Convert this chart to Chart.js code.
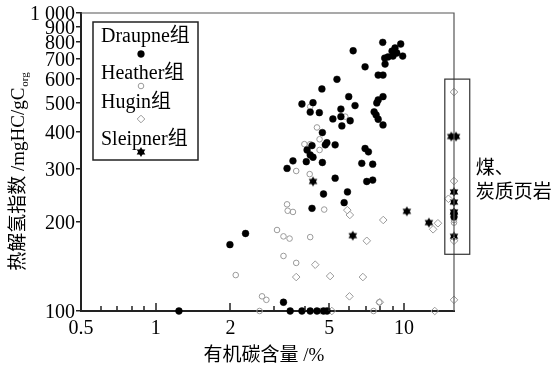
<!DOCTYPE html>
<html>
<head>
<meta charset="utf-8">
<script src="https://cdn.jsdelivr.net/npm/chart.js@4/dist/chart.umd.min.js"></script>
<style>
  html, body { margin: 0; padding: 0; background: #fff; }
  #wrap { width: 559px; height: 377px; position: relative; }
</style>
</head>
<body>
<div id="wrap"><canvas id="chart"></canvas></div>
<script>
// values: [TOC %, HI mgHC/gCorg]
const draupne = [
  [1.24,100],[1.99,167],[2.30,182],[3.27,107],[3.48,100],[3.88,100],[4.19,100],[4.46,100],[4.74,100],[4.90,100],
  [8.21,797],[9.70,787],[9.20,763],[8.95,745],[9.35,734],[9.88,717],[9.03,717],[8.62,712],[8.36,706],[8.39,674],
  [6.24,747],[6.97,660],[5.37,599],[7.87,619],[8.23,619],[4.67,556],[5.99,524],[8.23,524],[7.87,511],[7.77,499],
  [3.88,495],[4.30,500],[5.57,476],[6.35,489],[4.19,465],[4.56,463],[5.17,441],[5.57,449],[6.07,435],[5.62,418],
  [7.58,466],[7.72,455],[7.87,440],[8.23,421],[4.69,397],[4.89,367],[4.82,361],[5.28,361],[4.07,347],[4.26,359],
  [4.19,334],[4.30,328],[3.57,319],[4.04,317],[4.69,315],[3.38,301],[6.97,351],[7.19,342],[6.76,313],[7.48,311],
  [7.08,272],[7.48,275],[5.28,279],[4.74,247],[5.92,251],[5.74,231],[4.26,221],
  [15.9,213],[15.9,207]
];
const heather = [
  [4.19,485],[5.80,449],[4.46,413],[4.57,377],[3.97,363],[4.19,363],[4.57,347],[3.68,295],[4.17,288],
  [3.38,228],[3.40,217],[3.57,215],[4.77,219],[3.08,187],[3.27,178],[3.46,175],[4.19,177],[3.27,153],
  [3.68,145],[2.10,132],[2.68,112],[2.79,109],[2.62,100],[4.60,100],[7.95,107],[7.54,100],
  [15.9,202],[15.9,198]
];
const hugin = [
  [5.91,218],[6.05,210],[8.25,202],[7.08,172],[3.68,130],[5.04,131],[6.83,130],[6.03,112],[4.39,143],
  [5.12,100],[7.99,107],[13.3,100],[13.7,197],[13.1,188],
  [15.9,109],[15.9,543],[15.9,273],[15.1,238],[15.9,172]
];
const sleipner = [
  [4.30,272],[6.22,179],[10.27,216],[12.6,198],
  [15.5,385],[16.2,385],[15.9,251],[15.9,232],[15.9,215],[15.9,178]
];

const seriesNames = ['Draupne组', 'Heather组', 'Hugin组', 'Sleipner组'];
const xTickValues = [0.5, 1, 2, 5, 10];
const xMinorTicks = [0.6, 0.7, 0.8, 0.9, 3, 4, 6, 7, 8, 9];
const yTickValues = [100, 200, 300, 400, 500, 600, 700, 800, 900, 1000];
const xTitle = '有机碳含量 /%';
const yTitle = '热解氢指数 /mgHC/gC';
const coalLabel = ['煤、', '炭质页岩'];
const coalRange = { x: [14.6, 18.4], y: [155, 600] };

const serif = "'Liberation Serif', 'Noto Sans CJK SC', serif";
const grey = '#9a9a9a';

// six-pointed star marker
function makeStar(r) {
  const s = Math.ceil(r * 2) + 2;
  const c = document.createElement('canvas');
  c.width = s; c.height = s;
  const g = c.getContext('2d');
  g.fillStyle = '#000';
  for (let k = 0; k < 2; k++) {
    g.beginPath();
    for (let i = 0; i < 3; i++) {
      const a = (k ? Math.PI / 2 : -Math.PI / 2) + i * 2 * Math.PI / 3;
      const px = s / 2 + r * Math.cos(a), py = s / 2 + r * Math.sin(a);
      i ? g.lineTo(px, py) : g.moveTo(px, py);
    }
    g.closePath();
    g.fill();
  }
  return c;
}
const star = makeStar(5);

const toPts = arr => arr.map(p => ({ x: p[0], y: p[1] }));

const styles = [
  { pointStyle: 'circle', radius: 3.4, backgroundColor: '#000', borderColor: '#000', borderWidth: 0.5 },
  { pointStyle: 'circle', radius: 2.8, backgroundColor: 'rgba(255,255,255,0)', borderColor: grey, borderWidth: 1 },
  { pointStyle: 'rectRot', radius: 3.8, backgroundColor: 'rgba(255,255,255,0)', borderColor: grey, borderWidth: 1 },
  { pointStyle: star, radius: 5, backgroundColor: '#000', borderColor: '#000', borderWidth: 0 }
];

const decor = {
  id: 'decor',
  afterDraw(chart) {
    const { ctx, chartArea: a, scales: { x, y } } = chart;
    ctx.save();
    // top and right frame
    ctx.strokeStyle = '#555';
    ctx.lineWidth = 1.2;
    ctx.beginPath();
    ctx.moveTo(a.left, a.top); ctx.lineTo(a.right, a.top); ctx.lineTo(a.right, a.bottom);
    ctx.stroke();

    // x ticks pointing into the plot
    ctx.strokeStyle = '#222';
    ctx.lineWidth = 1.5;
    ctx.beginPath();
    xTickValues.slice(1).forEach(v => {
      const px = Math.round(x.getPixelForValue(v));
      ctx.moveTo(px, a.bottom); ctx.lineTo(px, a.bottom - 8);
    });
    xMinorTicks.forEach(v => {
      const px = Math.round(x.getPixelForValue(v));
      ctx.moveTo(px, a.bottom); ctx.lineTo(px, a.bottom - 5);
    });
    ctx.stroke();

    // coal / carbonaceous shale box
    const bx0 = x.getPixelForValue(coalRange.x[0]), bx1 = x.getPixelForValue(coalRange.x[1]);
    const by0 = y.getPixelForValue(coalRange.y[1]), by1 = y.getPixelForValue(coalRange.y[0]);
    ctx.strokeStyle = '#333';
    ctx.lineWidth = 1.2;
    ctx.strokeRect(bx0, by0, bx1 - bx0, by1 - by0);

    ctx.fillStyle = '#000';
    ctx.textBaseline = 'middle';
    ctx.textAlign = 'left';
    ctx.font = "19px 'Noto Sans CJK SC'";
    ctx.fillText(coalLabel[0], bx1 + 6, 167);
    ctx.fillText(coalLabel[1], bx1 + 6, 191);

    // legend box
    const lx = 93, ly = 22, lw = 105, lh = 138;
    ctx.strokeStyle = '#222';
    ctx.lineWidth = 1.5;
    ctx.strokeRect(lx, ly, lw, lh);
    ctx.font = '20px ' + serif;
    const textY = [37, 74, 103, 140];
    const markY = [54, 86, 119, 152];
    seriesNames.forEach((n, i) => {
      ctx.fillStyle = '#000';
      ctx.fillText(n, lx + 8, textY[i]);
      const st = styles[i];
      ctx.fillStyle = st.backgroundColor;
      ctx.strokeStyle = st.borderColor;
      ctx.lineWidth = st.borderWidth || 1;
      Chart.helpers.drawPoint(ctx, { pointStyle: st.pointStyle, radius: st.radius, rotation: 0, borderWidth: st.borderWidth }, 141, markY[i]);
    });

    // axis titles
    ctx.fillStyle = '#000';
    ctx.textAlign = 'center';
    ctx.font = '19px ' + serif;
    ctx.fillText(xTitle, 264, 356);

    ctx.translate(19, 172);
    ctx.rotate(-Math.PI / 2);
    ctx.textAlign = 'left';
    ctx.font = '19px ' + serif;
    const w1 = ctx.measureText(yTitle).width;
    ctx.font = '11px ' + serif;
    const w2 = ctx.measureText('org').width;
    const start = -(w1 + w2) / 2;
    ctx.font = '19px ' + serif;
    ctx.fillText(yTitle, start, 0);
    ctx.font = '11px ' + serif;
    ctx.fillText('org', start + w1 + 1, 6);
    ctx.restore();
  }
};

const datasets = [draupne, heather, hugin, sleipner].map((d, i) => ({
  label: seriesNames[i],
  data: toPts(d),
  pointStyle: styles[i].pointStyle,
  pointRadius: styles[i].radius,
  pointBackgroundColor: styles[i].backgroundColor,
  pointBorderColor: styles[i].borderColor,
  pointBorderWidth: styles[i].borderWidth,
  showLine: false,
  clip: false
}));

new Chart(document.getElementById('chart'), {
  type: 'scatter',
  data: { datasets: datasets },
  options: {
    responsive: true,
    maintainAspectRatio: false,
    animation: false,
    layout: { padding: { top: 13, right: 105, left: 0, bottom: 0 } },
    plugins: { legend: { display: false }, tooltip: { enabled: false } },
    scales: {
      x: {
        type: 'logarithmic',
        min: 0.5,
        max: 15.9,
        afterBuildTicks: s => { s.ticks = xTickValues.map(v => ({ value: v })); },
        afterFit: s => { s.height = 66; },
        grid: { drawOnChartArea: false, drawTicks: false },
        border: { display: true, color: '#222', width: 2 },
        ticks: {
          autoSkip: false,
          maxRotation: 0,
          padding: 6,
          color: '#000',
          font: { family: serif, size: 20 },
          callback: v => String(v)
        }
      },
      y: {
        type: 'logarithmic',
        min: 100,
        max: 1000,
        afterBuildTicks: s => { s.ticks = yTickValues.map(v => ({ value: v })); },
        afterFit: s => { s.width = 81; },
        grid: { drawOnChartArea: false, drawTicks: true, tickLength: 5, color: '#222', lineWidth: 1.5 },
        border: { display: true, color: '#222', width: 2 },
        ticks: {
          autoSkip: false,
          padding: 1,
          labelOffset: 2,
          color: '#000',
          font: { family: serif, size: 20 },
          callback: v => v === 1000 ? '1 000' : String(v)
        }
      }
    }
  },
  plugins: [decor]
});
</script>
</body>
</html>
